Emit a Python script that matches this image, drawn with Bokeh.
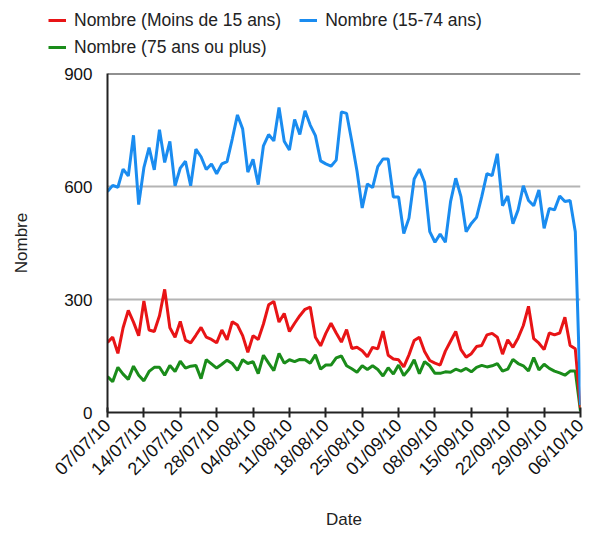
import pandas as pd
from bokeh.plotting import figure
from bokeh.layouts import column
from bokeh.models import (Range1d, FixedTicker, DatetimeTickFormatter, Legend,
                          LegendItem, Span)
from bokeh.embed import file_html
from bokeh.resources import INLINE
from math import pi

start_date = "2010-07-07"
series_names = ["Nombre (Moins de 15 ans)", "Nombre (15-74 ans)", "Nombre (75 ans ou plus)"]

moins15 = [186, 200, 157, 225, 271, 240, 204, 296, 219, 215, 257, 327, 225, 200, 242, 192,
           185, 205, 226, 200, 194, 185, 219, 193, 241, 232, 204, 160, 204, 194, 235, 286,
           295, 240, 263, 215, 237, 257, 274, 280, 200, 177, 210, 237, 211, 187, 220, 170,
           173, 164, 148, 173, 169, 216, 152, 142, 140, 121, 153, 191, 200, 162, 138, 131,
           126, 163, 189, 215, 167, 147, 156, 175, 178, 206, 210, 200, 155, 193, 173, 198,
           231, 282, 196, 184, 167, 211, 206, 211, 253, 178, 169, 12]

de15a74 = [587, 603, 598, 646, 628, 736, 552, 650, 703, 644, 751, 664, 720, 602, 649, 667,
           602, 699, 679, 645, 660, 634, 660, 666, 726, 790, 753, 638, 672, 605, 708, 738,
           721, 810, 720, 697, 778, 738, 801, 763, 735, 668, 660, 654, 670, 798, 794, 720,
           641, 543, 607, 597, 653, 673, 673, 572, 572, 475, 516, 620, 646, 611, 480, 452,
           474, 452, 560, 622, 573, 480, 502, 518, 573, 634, 629, 687, 549, 575, 501, 538,
           602, 563, 549, 591, 489, 542, 538, 575, 560, 563, 480, 20]

plus75 = [95, 82, 120, 102, 88, 123, 99, 84, 109, 120, 120, 99, 125, 109, 136, 118,
          123, 125, 90, 140, 129, 118, 128, 139, 130, 112, 140, 130, 135, 103, 152, 131,
          111, 157, 131, 140, 135, 141, 140, 131, 153, 115, 126, 126, 145, 150, 124, 116,
          107, 124, 114, 124, 114, 97, 119, 102, 126, 98, 115, 140, 103, 135, 124, 104,
          104, 108, 107, 115, 110, 117, 108, 120, 125, 121, 124, 130, 110, 115, 141, 130,
          124, 110, 146, 113, 128, 117, 110, 105, 99, 110, 110, 3]

y_ticks = [0, 300, 600, 900]

dates = pd.date_range(start_date, periods=len(de15a74))
tick_dates = dates[::7]

FONT = "Liberation Sans"
RED, BLUE, GREEN = "#e81416", "#1a8cf0", "#1a8c1a"

# ---- legend strip (top): same series, drawn outside this strip's ranges ----
TOP_H = 60
tp = figure(width=589, height=TOP_H, output_backend="svg", toolbar_location=None,
            x_range=Range1d(0, 1), y_range=Range1d(-2, -1),
            x_axis_location=None, y_axis_location=None,
            min_border_left=0, min_border_right=0, min_border_top=0, min_border_bottom=0)
tp.frame_align = False
tp.outline_line_color = None
tp.grid.grid_line_color = None
lr = tp.line(dates, moins15, line_color=RED, line_width=3)
lb = tp.line(dates, de15a74, line_color=BLUE, line_width=3)
lg = tp.line(dates, plus75, line_color=GREEN, line_width=3)


def make_legend(items, loc):
    return Legend(items=items, location=loc, orientation="horizontal",
                  border_line_color=None, background_fill_alpha=0,
                  padding=0, margin=0, spacing=18, label_standoff=8,
                  glyph_width=18, glyph_height=24, label_height=24,
                  label_text_font=FONT, label_text_font_size="17.5px",
                  label_text_color="#222222")


leg1 = make_legend([LegendItem(label=series_names[0], renderers=[lr]),
                    LegendItem(label=series_names[1], renderers=[lb])], (48, 28))
leg2 = make_legend([LegendItem(label=series_names[2], renderers=[lg])], (48, 1))
tp.add_layout(leg1, "center")
tp.add_layout(leg2, "center")

# ---- main chart ----
p = figure(width=589, height=533 - TOP_H, x_axis_type="datetime",
           output_backend="svg", toolbar_location=None,
           x_range=Range1d(dates[0], dates[-1]), y_range=Range1d(0, 900),
           min_border_left=107, min_border_right=9, min_border_top=13,
           min_border_bottom=121)
p.frame_align = False
p.outline_line_color = None

p.line(dates, plus75, line_color=GREEN, line_width=3)
p.line(dates, moins15, line_color=RED, line_width=3)
p.line(dates, de15a74, line_color=BLUE, line_width=3)

p.xgrid.grid_line_color = None
p.ygrid.ticker = FixedTicker(ticks=[300, 600])
p.ygrid.grid_line_color = "#b4b4b4"
p.ygrid.grid_line_width = 2

p.add_layout(Span(location=900, dimension="width", line_color="#222222", line_width=2))

xa = p.xaxis[0]
xa.ticker = FixedTicker(ticks=[d.value // 10**6 for d in tick_dates])
xa.formatter = DatetimeTickFormatter(days="%d/%m/%y", months="%d/%m/%y", years="%d/%m/%y")
xa.major_label_orientation = pi / 4
xa.major_label_text_font = FONT
xa.major_label_text_font_size = "18px"
xa.major_label_text_color = "#111111"
xa.axis_line_color = "#222222"
xa.axis_line_width = 2
xa.major_tick_line_color = "#222222"
xa.major_tick_line_width = 2
xa.major_tick_in = 5
xa.major_tick_out = 5
xa.minor_tick_line_color = None
xa.axis_label = "Date"
xa.axis_label_text_font = FONT
xa.axis_label_text_font_size = "17px"
xa.axis_label_text_font_style = "normal"
xa.axis_label_text_color = "#222222"
xa.axis_label_standoff = 21

ya = p.yaxis[0]
ya.ticker = FixedTicker(ticks=y_ticks)
ya.major_label_text_font = FONT
ya.major_label_text_font_size = "17px"
ya.major_label_text_color = "#111111"
ya.major_label_standoff = 9
ya.axis_line_color = "#222222"
ya.axis_line_width = 2
ya.major_tick_line_color = None
ya.minor_tick_line_color = None
ya.axis_label = "Nombre"
ya.axis_label_text_font = FONT
ya.axis_label_text_font_size = "17px"
ya.axis_label_text_font_style = "normal"
ya.axis_label_text_color = "#222222"
ya.axis_label_standoff = 30

layout = column(tp, p, spacing=0)
open("out.html", "w").write(file_html(layout, INLINE))
